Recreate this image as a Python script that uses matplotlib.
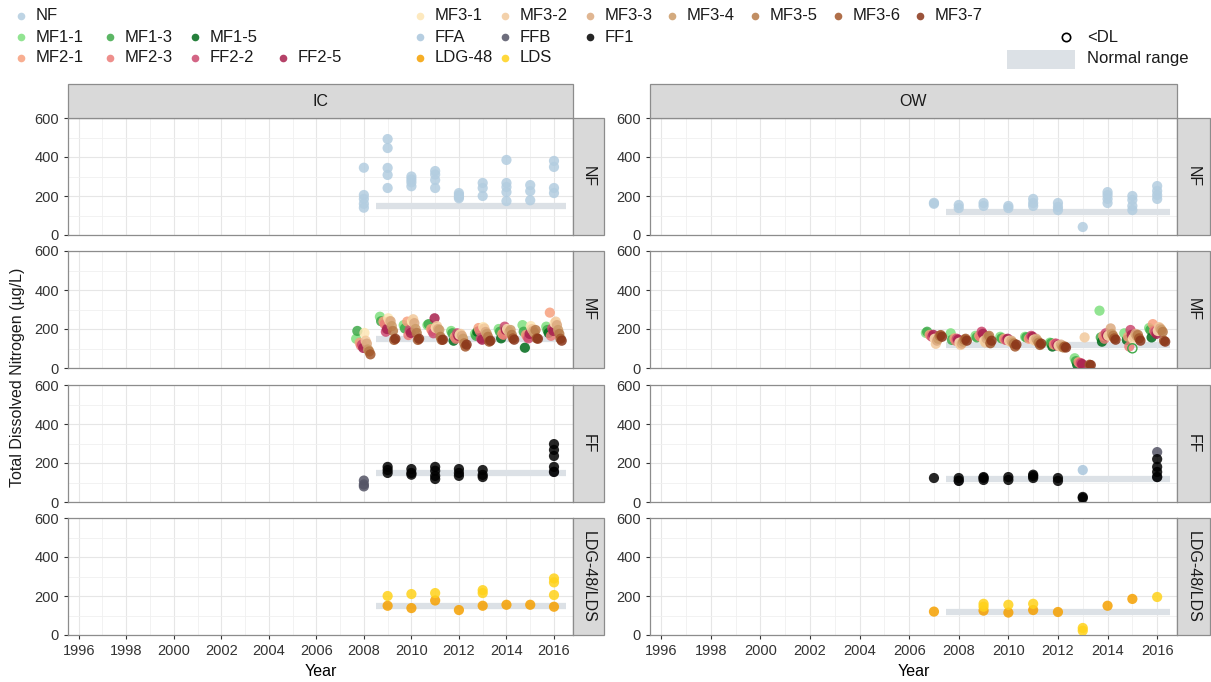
import numpy as np
import matplotlib
matplotlib.use("Agg")
import matplotlib.pyplot as plt
from matplotlib.lines import Line2D
from matplotlib.patches import Rectangle

plt.rcParams['font.family'] = ['Liberation Sans', 'DejaVu Sans']
plt.rcParams['font.size'] = 10

# ---- colours per site ----
colors = {
    "NF": "#b3cde0",
    "MF1-1": "#7fe07f", "MF1-3": "#3faa4a", "MF1-5": "#006a1a",
    "MF2-1": "#f7a07e", "MF2-3": "#ec7c78", "FF2-2": "#cc4a70", "FF2-5": "#a8214e",
    "MF3-1": "#fde6b4", "MF3-2": "#f2c99c", "MF3-3": "#dba97f", "MF3-4": "#cc9b68",
    "MF3-5": "#b77a48", "MF3-6": "#a2562a", "MF3-7": "#8a3519",
    "FFA": "#a9c6dc", "FFB": "#555566", "FF1": "#000000",
    "LDG-48": "#f5a000", "LDS": "#ffd21a",
}
mf_sites = ["MF1-1", "MF1-3", "MF1-5", "MF2-1", "MF2-3", "FF2-2", "FF2-5",
            "MF3-1", "MF3-2", "MF3-3", "MF3-4", "MF3-5", "MF3-6", "MF3-7"]

# ---- NF ----
ic_nf_year = [2008]*5 + [2009]*5 + [2010]*4 + [2011]*4 + [2012]*4 + [2013]*3 + [2014]*5 + [2015]*3 + [2016]*4
ic_nf_val = [345, 205, 185, 160, 140,
             492, 446, 344, 308, 241,
             300, 285, 270, 250,
             328, 310, 282, 241,
             215, 205, 195, 188,
             267, 241, 200,
             385, 267, 246, 220, 174,
             256, 225, 178,
             380, 349, 241, 215]
ow_nf_year = [2007]*2 + [2008]*2 + [2009]*2 + [2010]*2 + [2011]*3 + [2012]*3 + [2013] + [2014]*4 + [2015]*4 + [2016]*4
ow_nf_val = [165, 160, 154, 138, 164, 149, 149, 138, 185, 164, 149, 164, 144, 128, 41,
             220, 205, 185, 164, 200, 180, 149, 128, 251, 226, 205, 185]

# ---- MF (one value per site per year, None = no sample) ----
ic_mf_years = [2008, 2009, 2010, 2011, 2012, 2013, 2014, 2015, 2016]
ic_mf = {
    "MF1-1": [150, 263, 220, 220, 190, 175, 200, 220, 212],
    "MF1-3": [190, 240, 203, 225, 178, 165, 186, 186, 195],
    "MF1-5": [None, None, None, None, 140, 186, 152, 104, 180],
    "MF2-1": [130, 238, 238, 200, 160, 205, 175, 170, 284],
    "MF2-3": [115, 225, 169, 190, 150, 190, 170, 160, 165],
    "FF2-2": [120, 186, 195, 178, 178, 152, 212, 152, 203],
    "FF2-5": [103, 200, 180, 255, 165, 145, 195, 175, 190],
    "MF3-1": [180, 255, 238, 205, 170, 210, 200, 215, 230],
    "MF3-2": [140, 240, 250, 215, 175, 203, 190, 200, 238],
    "MF3-3": [125, 240, 230, 200, 165, 185, 185, 190, 220],
    "MF3-4": [95, 215, 200, 195, 150, 175, 195, 180, 195],
    "MF3-5": [85, 190, 180, 160, 127, 160, 170, 195, 175],
    "MF3-6": [70, 144, 144, 144, 110, 135, 152, 152, 150],
    "MF3-7": [None, 150, 150, 145, 120, 140, 145, 150, 140],
}
ow_mf_years = [2007, 2008, 2009, 2010, 2011, 2012, 2013, 2014, 2015, 2016]
ow_mf = {
    "MF1-1": [180, 178, 165, 160, 160, 130, 50, 294, 178, 205],
    "MF1-3": [186, 144, 157, 152, 157, 127, 35, 157, None, 195],
    "MF1-5": [None, None, None, None, None, 110, 17, 135, 144, 157],
    "MF2-1": [170, 152, 165, 150, 150, 120, 30, 165, 160, 225],
    "MF2-3": [165, 140, 160, 145, 155, 125, 25, 150, 110, 190],
    "FF2-2": [160, 150, 186, 144, 165, 125, 25, 178, 195, 185],
    "FF2-5": [170, 145, 175, 150, 160, 115, 20, 165, 170, 175],
    "MF3-1": [150, 130, 140, 140, 145, 115, None, 165, 150, 190],
    "MF3-2": [124, 118, 130, 135, 140, 110, 157, 170, 160, 210],
    "MF3-3": [140, 125, 150, 140, 150, 120, None, 203, 175, 203],
    "MF3-4": [150, 135, 160, 130, 140, 110, None, 175, 165, 195],
    "MF3-5": [165, 145, 165, 125, 130, 105, None, 165, 170, 185],
    "MF3-6": [169, 150, 127, 110, 118, 110, 17, 152, 152, 140],
    "MF3-7": [160, 140, 140, 120, 125, 105, 15, 145, 140, 135],
}
# below detection limit samples (OW, MF)
ow_dl_site = ["MF1-3"]
ow_dl_year = [2015]
ow_dl_val = [101]

# ---- FF ----
ic_ff = {
    "FFB": ([2008, 2008, 2008, 2016], [110, 90, 80, 155]),
    "FF1": ([2009]*3 + [2010]*3 + [2011]*4 + [2012]*3 + [2013]*3 + [2016]*5,
            [180, 164, 149, 169, 149, 140, 180, 160, 134, 118, 169, 149, 134,
             164, 139, 128, 297, 267, 236, 180, 154]),
}
ow_ff = {
    "FFA": ([2013], [164]),
    "FFB": ([2008, 2016, 2016], [110, 256, 128]),
    "FF1": ([2007] + [2008]*2 + [2009]*3 + [2010]*2 + [2011]*3 + [2012]*2 + [2013]*2 + [2016]*4,
            [123, 123, 108, 128, 113, 123, 128, 113, 133, 123, 140, 123, 108,
             26, 20, 220, 180, 154, 128]),
}

# ---- LDG-48 / LDS ----
ic_ld = {
    "LDG-48": ([2009, 2010, 2011, 2012, 2013, 2014, 2015, 2016],
               [150, 138, 177, 128, 150, 155, 155, 145]),
    "LDS": ([2009, 2010, 2011, 2013, 2013, 2016, 2016, 2016],
            [200, 210, 215, 230, 215, 290, 270, 205]),
}
ow_ld = {
    "LDG-48": ([2007, 2009, 2010, 2011, 2012, 2014, 2015],
               [120, 125, 115, 128, 118, 150, 185]),
    "LDS": ([2009, 2009, 2010, 2011, 2013, 2013, 2016],
            [160, 145, 155, 160, 36, 22, 195]),
}

# normal range: (start year, end year, value)
normal_ic = (2008.5, 2016.5, 148)
normal_ow = (2007.5, 2016.5, 120)

rows = ["NF", "MF", "FF", "LDG-48/LDS"]
cols = ["IC", "OW"]

fig = plt.figure(figsize=(12.11, 6.82), dpi=100)
W, H = 1211.0, 682.0

col_px = [(68, 573, 604), (650, 1177, 1210)]
row_px = [(118, 235), (251, 368), (385, 502), (518, 635)]

PT_S = 54
ALPHA = 0.85
band_col = "#dce1e6"
strip_col = "#d9d9d9"
edge_col = "#8c8c8c"


def site_scatter(ax, x, y, site):
    ax.scatter(x, y, s=PT_S, color=colors[site], alpha=ALPHA, edgecolors="none", zorder=3, clip_on=True)


for ci, cname in enumerate(cols):
    x0, x1, sx1 = col_px[ci]
    for ri, rname in enumerate(rows):
        y0, y1 = row_px[ri]
        ax = fig.add_axes([x0 / W, 1 - y1 / H, (x1 - x0) / W, (y1 - y0) / H])
        ax.set_xlim(1995.55, 2016.8)
        ax.set_ylim(0, 600)
        ax.set_xticks(np.arange(1996, 2017, 2))
        ax.set_xticks(np.arange(1996, 2017, 1), minor=True)
        ax.set_yticks([0, 200, 400, 600])
        ax.set_yticks([100, 300, 500], minor=True)
        ax.grid(True, which="major", color="#e6e6e6", lw=0.8, zorder=0)
        ax.grid(True, which="minor", color="#f0f0f0", lw=0.6, zorder=0)
        ax.tick_params(which="minor", length=0)
        ax.tick_params(which="major", length=3, color="#333333", labelsize=10.5, labelcolor="#333333")
        for sp in ax.spines.values():
            sp.set_color(edge_col)
            sp.set_linewidth(0.9)
        if ri < 3:
            ax.tick_params(axis="x", labelbottom=False, length=0)
        else:
            ax.set_xlabel("Year", fontsize=11.5, labelpad=4)

        nr = normal_ic if ci == 0 else normal_ow
        ax.plot([nr[0], nr[1]], [nr[2], nr[2]], color=band_col, lw=4.5, solid_capstyle="butt", zorder=2)

        if rname == "NF":
            if ci == 0:
                site_scatter(ax, ic_nf_year, ic_nf_val, "NF")
            else:
                site_scatter(ax, ow_nf_year, ow_nf_val, "NF")
        elif rname == "MF":
            years = ic_mf_years if ci == 0 else ow_mf_years
            data = ic_mf if ci == 0 else ow_mf
            for k, site in enumerate(mf_sites):
                off = (k - (len(mf_sites) - 1) / 2) * 0.05
                xs = [yr + off for yr, v in zip(years, data[site]) if v is not None]
                vs = [v for v in data[site] if v is not None]
                site_scatter(ax, xs, vs, site)
            if ci == 1:
                for site, yr, v in zip(ow_dl_site, ow_dl_year, ow_dl_val):
                    ax.scatter([yr], [v], s=PT_S * 0.8, facecolors="none",
                               edgecolors=colors[site], linewidths=1.0, zorder=4)
        elif rname == "FF":
            data = ic_ff if ci == 0 else ow_ff
            for site, (xs, vs) in data.items():
                site_scatter(ax, xs, vs, site)
        else:
            data = ic_ld if ci == 0 else ow_ld
            for site, (xs, vs) in data.items():
                site_scatter(ax, xs, vs, site)

        # right strip
        fig.patches.append(Rectangle((x1 / W, 1 - y1 / H), (sx1 - x1) / W, (y1 - y0) / H,
                                     transform=fig.transFigure, facecolor=strip_col,
                                     edgecolor=edge_col, lw=0.9))
        fig.text((x1 + sx1) / 2 / W, 1 - (y0 + y1) / 2 / H, rname, rotation=-90,
                 ha="center", va="center", fontsize=11.5, color="#1a1a1a")

    # top strip
    fig.patches.append(Rectangle((x0 / W, 1 - 118 / H), (x1 - x0) / W, 34 / H,
                                 transform=fig.transFigure, facecolor=strip_col,
                                 edgecolor=edge_col, lw=0.9))
    fig.text((x0 + x1) / 2 / W, 1 - 101 / H, cname, ha="center", va="center",
             fontsize=11.5, color="#1a1a1a")

fig.text(18 / W, 1 - 377 / H, "Total Dissolved Nitrogen (\u00b5g/L)", rotation=90,
         ha="center", va="center", fontsize=11.5, color="#1a1a1a")

# ---- legend ----
legend_rows = [
    [("NF", 21)],
    [("MF1-1", 21), ("MF1-3", 110), ("MF1-5", 195)],
    [("MF2-1", 21), ("MF2-3", 110), ("FF2-2", 195), ("FF2-5", 283)],
    [("MF3-1", 420), ("MF3-2", 505), ("MF3-3", 590), ("MF3-4", 672),
     ("MF3-5", 755), ("MF3-6", 838), ("MF3-7", 920)],
    [("FFA", 420), ("FFB", 505), ("FF1", 590)],
    [("LDG-48", 420), ("LDS", 505)],
]
row_y = [16, 37, 58, 16, 37, 58]
for items, ly in zip(legend_rows, row_y):
    for site, lx in items:
        fig.add_artist(Line2D([lx / W], [1 - ly / H], marker="o", ms=5.5, color=colors[site],
                              alpha=ALPHA, mec="none", lw=0, transform=fig.transFigure))
        fig.text((lx + 15) / W, 1 - ly / H, site, ha="left", va="center", fontsize=12, color="#1a1a1a")

fig.add_artist(Line2D([1066 / W], [1 - 37 / H], marker="o", ms=6, mfc="none", mec="black",
                      mew=1.2, lw=0, transform=fig.transFigure))
fig.text(1087 / W, 1 - 37 / H, "<DL", ha="left", va="center", fontsize=12, color="#1a1a1a")
fig.patches.append(Rectangle((1007 / W, 1 - 69 / H), 68 / W, 19 / H, transform=fig.transFigure,
                             facecolor=band_col, edgecolor="none"))
fig.text(1087 / W, 1 - 59 / H, "Normal range", ha="left", va="center", fontsize=12, color="#1a1a1a")

fig.savefig("out.png", dpi=100)
